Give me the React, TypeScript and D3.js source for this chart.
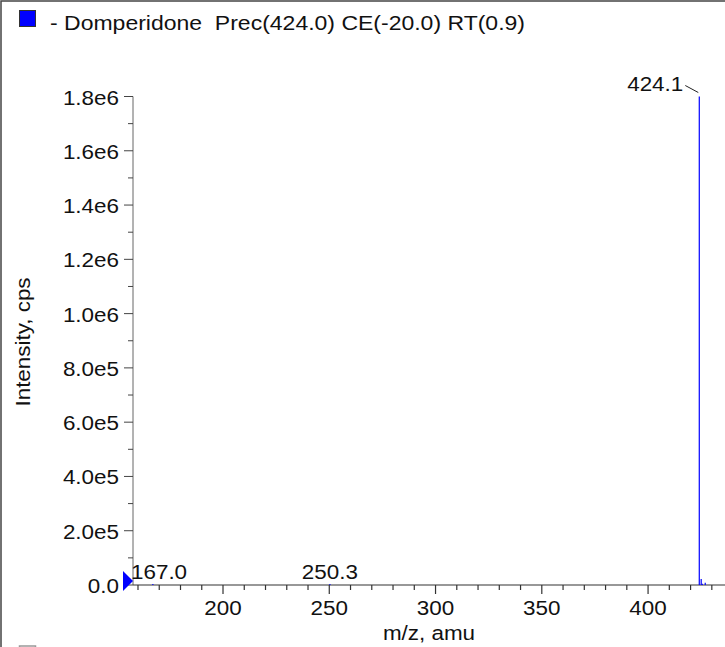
import * as d3 from "d3";

// spectrum peaks (m/z, cps)
const peakMz = [167.0, 250.3, 424.1, 425.0, 425.5, 426.9];
const peakIntensity = [3500, 1200, 1800000, 22000, 5000, 8500];
const labelledMz = [167.0, 250.3, 424.1];

const yTicks = [0, 2e5, 4e5, 6e5, 8e5, 1e6, 1.2e6, 1.4e6, 1.6e6, 1.8e6];
const xTicks = [200, 250, 300, 350, 400];

const title = "- Domperidone  Prec(424.0) CE(-20.0) RT(0.9)";

const W = 725;
const H = 647;
const left = 133;
const right = 725;
const bottom = 585;
const top = 96.5;

const FONT = "'Liberation Sans', Arial, Helvetica, sans-serif";
const SX = 1.15; // source font runs wide

function yFmt(v: number) {
  if (v === 0) return "0.0";
  const e = Math.floor(Math.log10(v));
  return `${(v / Math.pow(10, e)).toFixed(1)}e${e}`;
}

function Label(props: {
  x: number;
  y: number;
  size: number;
  anchor?: string;
  rotate?: number;
  children: string;
}) {
  const { x, y, size, anchor = "start", rotate = 0, children } = props;
  return (
    <text
      transform={`translate(${x},${y}) rotate(${rotate}) scale(${SX},1)`}
      fontSize={size}
      fontFamily={FONT}
      textAnchor={anchor}
      fill="#111"
      style={{ whiteSpace: "pre" }}
    >
      {children}
    </text>
  );
}

export default function App() {
  const x = d3.scaleLinear().domain([157.65, 436.2]).range([left, right]);
  const y = d3.scaleLinear().domain([0, 1.8e6]).range([bottom, top]);

  const minorX = d3.range(160, 440, 10).filter((v) => v % 50 !== 0);
  const minorY = d3.range(1e5, 1.8e6, 2e5);

  const peaks = peakMz.map((mz, i) => ({ mz, v: peakIntensity[i] }));

  return (
    <div style={{ position: "fixed", left: 0, top: 0 }}>
      <svg width={W} height={H} style={{ display: "block", background: "#fff" }}>
        {/* outer frame */}
        <rect x={1} y={1} width={W + 10} height={H + 10} fill="none" stroke="#444" strokeWidth={1.5} />

        {/* legend */}
        <rect x={19.5} y={10.5} width={16} height={16} fill="#0000ff" stroke="#333" strokeWidth={1} />
        <Label x={50} y={30} size={20}>{title}</Label>
        <rect x={19.5} y={646} width={16} height={16} fill="#fff" stroke="#999" strokeWidth={1.5} />

        {/* y axis */}
        <line x1={left} x2={left} y1={top} y2={bottom} stroke="#666" strokeWidth={1} />
        {yTicks.map((t) => (
          <g key={t}>
            <line x1={left - 9} x2={left} y1={y(t)} y2={y(t)} stroke="#444" strokeWidth={1} />
            <Label x={119} y={y(t) + 8} size={19.5} anchor="end">{yFmt(t)}</Label>
          </g>
        ))}
        {minorY.map((t) => (
          <line key={t} x1={left - 5} x2={left} y1={y(t)} y2={y(t)} stroke="#444" strokeWidth={1} />
        ))}
        <Label x={30} y={342} size={19.5} anchor="middle" rotate={-90}>Intensity, cps</Label>

        {/* x axis */}
        <line x1={left} x2={right} y1={bottom} y2={bottom} stroke="#333" strokeWidth={1.2} />
        {xTicks.map((t) => (
          <g key={t}>
            <line x1={x(t)} x2={x(t)} y1={bottom} y2={bottom + 9} stroke="#333" strokeWidth={1.2} />
            <Label x={x(t)} y={615} size={19.5} anchor="middle">{String(t)}</Label>
          </g>
        ))}
        {minorX.map((t) => (
          <line key={t} x1={x(t)} x2={x(t)} y1={bottom} y2={bottom + 5} stroke="#333" strokeWidth={1.2} />
        ))}
        <Label x={(left + right) / 2} y={640} size={19.5} anchor="middle">m/z, amu</Label>

        {/* precursor marker */}
        <path d={`M${left - 10},${bottom - 14} L${left},${bottom - 4} L${left - 10},${bottom + 6} Z`} fill="#0000ff" />

        {/* peaks */}
        {peaks.map((p) => (
          <line
            key={p.mz}
            x1={x(p.mz)}
            x2={x(p.mz)}
            y1={bottom}
            y2={Math.min(bottom - 1, y(p.v))}
            stroke="#0000ff"
            strokeWidth={1.2}
          />
        ))}

        {/* peak labels */}
        {labelledMz.map((mz) => {
          const i = peakMz.indexOf(mz);
          const px = x(mz);
          const py = y(peakIntensity[i]);
          if (py < 200) {
            return (
              <g key={mz}>
                <line x1={px - 14} y1={py - 11} x2={px - 1} y2={py - 4} stroke="#222" strokeWidth={1} />
                <Label x={px - 16} y={py - 6} size={19.5} anchor="end">{mz.toFixed(1)}</Label>
              </g>
            );
          }
          const nearEdge = px - 28 < left;
          return (
            <Label key={mz} x={nearEdge ? left - 2 : px} y={bottom - 6} size={19.5} anchor={nearEdge ? "start" : "middle"}>
              {mz.toFixed(1)}
            </Label>
          );
        })}
      </svg>
    </div>
  );
}
